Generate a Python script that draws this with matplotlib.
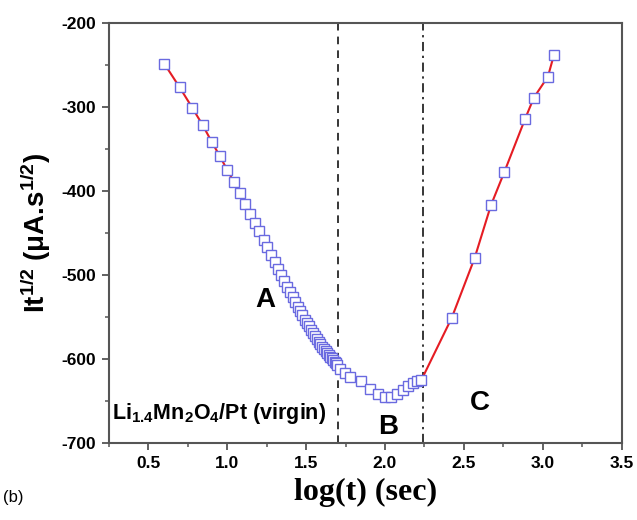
import numpy as np
import matplotlib
matplotlib.use("Agg")
import matplotlib.pyplot as plt
from matplotlib.ticker import MultipleLocator

# time (s) and It^1/2 values
t_sec = [4, 5, 6, 7, 8, 9, 10, 11, 12, 13, 14, 15, 16, 17, 18, 19, 20,
         21, 22, 23, 24, 25, 26, 27, 28, 29, 30, 31, 32, 33, 34, 35, 36,
         37, 38, 39, 40, 41, 42, 43, 44, 45, 46, 47, 48, 49, 50, 52, 56,
         60, 70, 80, 90, 100, 110, 120, 130, 140, 150, 160, 170,
         265, 370, 470, 570, 775, 880, 1080, 1180]
it_half = [-249, -277, -301, -322, -342, -359, -375, -389, -403, -415, -427,
           -438, -448, -458, -467, -476, -485, -493, -500, -507, -514, -520,
           -526, -532, -538, -543, -548, -553, -557, -561, -565, -569, -573,
           -576, -579, -582, -585, -588, -590, -593, -595, -597, -599, -601,
           -603, -605, -607, -612, -617,
           -621, -626, -635, -641, -645, -645, -641, -637, -632, -628, -626, -625,
           -551, -480, -417, -378, -314, -289, -264, -238]

log_t = np.log10(t_sec)

x_dashed = 1.70
x_dashdot = 2.24

plt.rcParams['font.family'] = ['Liberation Sans', 'DejaVu Sans']
plt.rcParams['axes.unicode_minus'] = False
plt.rcParams['mathtext.fontset'] = 'custom'
plt.rcParams['mathtext.rm'] = 'Liberation Sans:bold'
plt.rcParams['mathtext.bf'] = 'Liberation Sans:bold'
plt.rcParams['mathtext.it'] = 'Liberation Sans:bold'

fig = plt.figure(figsize=(6.37, 5.2), dpi=100)
ax = fig.add_axes([0.171, 0.1475, 0.8047, 0.8088])

ax.plot(log_t, it_half, color='#e51c23', lw=1.5, zorder=2)
ax.plot(log_t, it_half, ls='none', marker='s', ms=7.8, mfc='white',
        mec='#6a6ae0', mew=1.0, zorder=3)

ax.axvline(x_dashed, color='black', ls=(0, (5, 4)), lw=1.1, zorder=1)
ax.axvline(x_dashdot, color='black', ls=(0, (6, 3, 1.5, 3)), lw=1.1, zorder=1)

ax.set_xlim(0.25, 3.5)
ax.set_ylim(-700, -200)
ax.xaxis.set_minor_locator(MultipleLocator(0.25))
ax.yaxis.set_major_locator(MultipleLocator(100))
ax.yaxis.set_minor_locator(MultipleLocator(50))
ax.set_xticks([0.5, 1.0, 1.5, 2.0, 2.5, 3.0, 3.5])
ax.set_xticklabels(['0.5', '1.0', '1.5', '2.0', '2.5', '3.0', '3.5'])

for s in ax.spines.values():
    s.set_color('#555555')
    s.set_linewidth(1.5)
ax.tick_params(which='major', direction='out', length=5, width=1.3,
               color='#555555', labelsize=12.5, pad=4)
ax.tick_params(which='minor', direction='out', length=3, width=1.1,
               color='#555555')
for lab in ax.get_xticklabels() + ax.get_yticklabels():
    lab.set_fontweight('bold')

ax.set_xlabel('log(t) (sec)', fontfamily='Liberation Serif', fontweight='bold',
              fontsize=23, labelpad=5)
ax.set_ylabel(r'It$^{1/2}$ ($\mu$A.s$^{1/2}$)',
              fontweight='bold', fontsize=20, labelpad=6)

ax.text(1.24, -530, 'A', fontsize=20, fontweight='bold', ha='center', va='center')
ax.text(2.02, -681, 'B', fontsize=20, fontweight='bold', ha='center', va='center')
ax.text(2.60, -652, 'C', fontsize=20, fontweight='bold', ha='center', va='center')
ax.text(0.27, -664,
        r'Li$_{1.4}$Mn$_{2}$O$_{4}$/Pt (virgin)',
        fontsize=15.5, fontweight='bold', ha='left', va='center')

fig.text(0.005, 0.043, '(b)', fontsize=12, ha='left', va='center')

fig.savefig('out.png', dpi=100)
